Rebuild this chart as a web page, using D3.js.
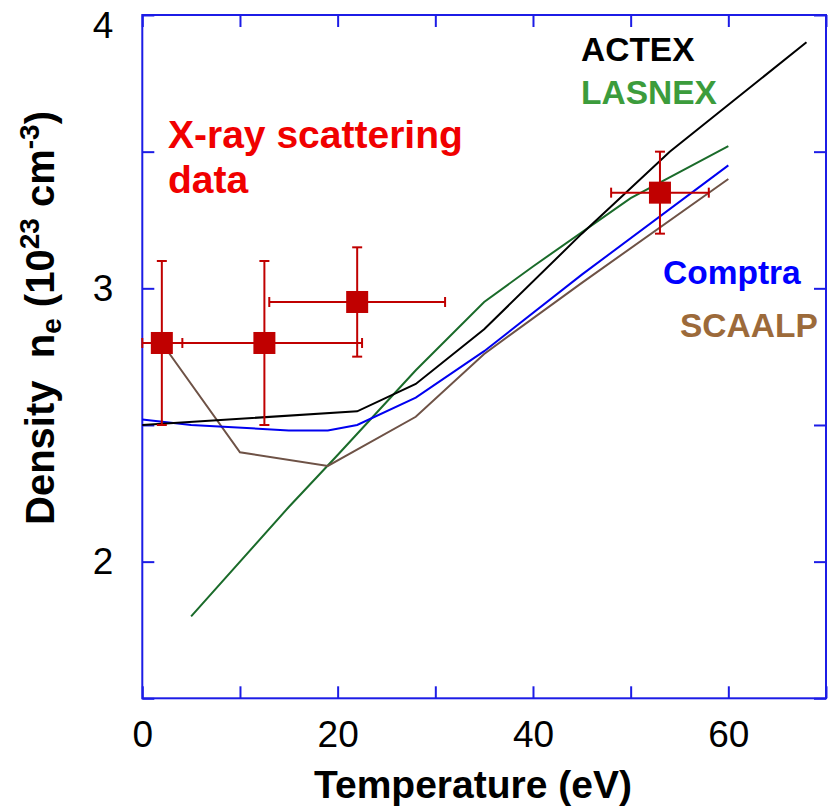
<!DOCTYPE html>
<html>
<head>
<meta charset="utf-8">
<script src="https://cdn.jsdelivr.net/npm/d3@7"></script>
<style>
  body { margin: 0; background: #fff; }
  text { font-family: "Liberation Sans", Arial, sans-serif; }
</style>
</head>
<body>
<svg id="chart" width="835" height="808"></svg>
<script>
'use strict';

// model curves, [temperature eV, density 1e23 cm-3]
const actex   = [[0,2.50],[22,2.55],[28,2.65],[35,2.85],[45,3.20],[54,3.50],[68,3.90]];
const lasnex  = [[5,1.80],[15,2.20],[20,2.39],[28,2.70],[35,2.95],[40,3.08],[50,3.33],[60,3.52]];
const comptra = [[0,2.52],[5,2.50],[15,2.48],[19,2.48],[22,2.50],[28,2.60],[35,2.77],[45,3.05],[60,3.45]];
const scaalp  = [[2,2.80],[10,2.40],[19,2.35],[28,2.53],[35,2.76],[45,3.02],[60,3.40]];

// x-ray scattering measurements with error bars
const xrayT   = [2, 12.5, 22, 53];
const xrayN   = [2.80, 2.80, 2.95, 3.35];
const xrayTLo = [0, 2.5, 13, 48];
const xrayTHi = [4.1, 22.5, 31, 58];
const xrayNLo = [2.50, 2.50, 2.75, 3.20];
const xrayNHi = [3.10, 3.10, 3.15, 3.50];

const xTicks = [0,10,20,30,40,50,60,70];
const xTickLabels = [0,20,40,60];
const yTicks = [1.5,2,2.5,3,3.5,4];
const yTickLabels = [2,3,4];

const svg = d3.select("#chart");
const frameColor = "#1c1ce6";

const x = d3.scaleLinear().domain([0,70]).range([142.3,826]);
const y = d3.scaleLinear().domain([1.5,4]).range([698.3,15]);

function styleAxis(g) {
  g.select(".domain").remove();
  g.selectAll(".tick line").attr("stroke", frameColor).attr("stroke-width", 2);
  g.selectAll(".tick text").attr("fill", "#000").style("font-size", "37px")
    .style("font-family", '"Liberation Sans", Arial, sans-serif');
}

svg.append("g").attr("transform", `translate(0,${y(1.5)})`)
  .call(d3.axisBottom(x).tickValues(xTicks).tickSize(-12).tickPadding(22)
    .tickFormat(d => xTickLabels.includes(d) ? d : ""))
  .call(styleAxis);
svg.append("g").attr("transform", `translate(0,${y(4)})`)
  .call(d3.axisTop(x).tickValues(xTicks).tickSize(-12).tickFormat(""))
  .call(styleAxis);
const yAxisG = svg.append("g").attr("transform", `translate(${x(0)},0)`)
  .call(d3.axisLeft(y).tickValues(yTicks).tickSize(-12).tickPadding(29)
    .tickFormat(d => yTickLabels.includes(d) ? d : ""))
  .call(styleAxis);
// top label sits a little lower so it is not cut by the page edge
yAxisG.selectAll(".tick text").filter(d => d === 4).attr("dy", "0.6em");
svg.append("g").attr("transform", `translate(${x(70)},0)`)
  .call(d3.axisRight(y).tickValues(yTicks).tickSize(-12).tickFormat(""))
  .call(styleAxis);

svg.append("rect")
  .attr("x", x(0)).attr("y", y(4))
  .attr("width", x(70) - x(0)).attr("height", y(1.5) - y(4))
  .attr("fill", "none").attr("stroke", frameColor).attr("stroke-width", 2);

const line = d3.line().x(d => x(d[0])).y(d => y(d[1]));
const curves = [
  { data: lasnex, color: "#1a6b2a" },
  { data: scaalp, color: "#6e5246" },
  { data: comptra, color: "#0000f0" },
  { data: actex, color: "#000000" }
];
svg.selectAll("path.curve").data(curves).enter().append("path")
  .attr("class", "curve")
  .attr("d", d => line(d.data))
  .attr("fill", "none")
  .attr("stroke", d => d.color)
  .attr("stroke-width", 2);

// error bars and squares
const red = "#c00000";
const cap = 5;
const pts = svg.append("g");
xrayT.forEach((t, i) => {
  const g = pts.append("g").attr("stroke", red).attr("stroke-width", 2);
  g.append("line").attr("x1", x(xrayTLo[i])).attr("x2", x(xrayTHi[i]))
    .attr("y1", y(xrayN[i])).attr("y2", y(xrayN[i]));
  g.append("line").attr("x1", x(t)).attr("x2", x(t))
    .attr("y1", y(xrayNLo[i])).attr("y2", y(xrayNHi[i]));
  [xrayTLo[i], xrayTHi[i]].forEach(v => {
    g.append("line").attr("x1", x(v)).attr("x2", x(v))
      .attr("y1", y(xrayN[i]) - cap).attr("y2", y(xrayN[i]) + cap);
  });
  [xrayNLo[i], xrayNHi[i]].forEach(v => {
    g.append("line").attr("x1", x(t) - cap).attr("x2", x(t) + cap)
      .attr("y1", y(v)).attr("y2", y(v));
  });
  pts.append("rect")
    .attr("x", x(t) - 11).attr("y", y(xrayN[i]) - 11)
    .attr("width", 22).attr("height", 22)
    .attr("fill", red);
});

// labels
const labels = [
  { t: "X-ray scattering", x: 168, y: 148, c: "#f00000", s: 39 },
  { t: "data", x: 168, y: 193, c: "#f00000", s: 39 },
  { t: "ACTEX", x: 581, y: 61, c: "#000000", s: 33.5 },
  { t: "LASNEX", x: 581, y: 104, c: "#3c9c3c", s: 33.5 },
  { t: "Comptra", x: 663, y: 284, c: "#0000ff", s: 33.5 },
  { t: "SCAALP", x: 680, y: 337, c: "#9c6a3a", s: 33.5 }
];
svg.selectAll("text.lbl").data(labels).enter().append("text")
  .attr("class", "lbl")
  .attr("x", d => d.x).attr("y", d => d.y)
  .attr("fill", d => d.c)
  .style("font-size", d => d.s + "px")
  .style("font-weight", "bold")
  .text(d => d.t);

// axis titles
svg.append("text")
  .attr("x", 473).attr("y", 798)
  .attr("text-anchor", "middle")
  .style("font-size", "39px").style("font-weight", "bold")
  .text("Temperature (eV)");

const yt = svg.append("text")
  .attr("transform", "translate(54,318) rotate(-90)")
  .attr("text-anchor", "middle")
  .style("font-size", "40px").style("font-weight", "bold");
yt.append("tspan").text("Density\u00a0\u00a0n");
yt.append("tspan").attr("dy", 7).style("font-size", "28px").text("e");
yt.append("tspan").attr("dy", -7).text("\u00a0(10");
yt.append("tspan").attr("dy", -15).style("font-size", "28px").text("23");
yt.append("tspan").attr("dy", 15).text(" cm");
yt.append("tspan").attr("dy", -15).style("font-size", "28px").text("-3");
yt.append("tspan").attr("dy", 15).text(")");
</script>
</body>
</html>
